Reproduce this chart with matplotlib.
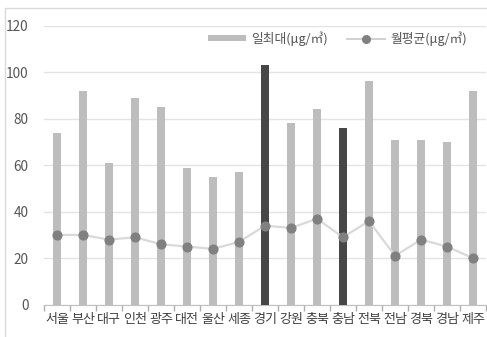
import matplotlib
matplotlib.use("Agg")
import matplotlib.pyplot as plt
from matplotlib.patches import Rectangle
from matplotlib.lines import Line2D
from matplotlib.patches import Patch

plt.rcParams['font.family'] = ['Noto Sans CJK KR', 'DejaVu Sans']

regions = ['서울', '부산', '대구', '인천', '광주', '대전', '울산', '세종', '경기',
           '강원', '충북', '충남', '전북', '전남', '경북', '경남', '제주']
daily_max = [74, 92, 61, 89, 85, 59, 55, 57, 103, 78, 84, 76, 96, 71, 71, 70, 92]
monthly_avg = [30, 30, 28, 29, 26, 25, 24, 27, 34, 33, 37, 29, 36, 21, 28, 25, 20]
highlight = ['경기', '충남']
y_ticks = [0, 20, 40, 60, 80, 100, 120]

light = '#bdbdbd'
dark = '#474747'

fig = plt.figure(figsize=(4.87, 3.37), dpi=100)
fig.patches.append(Rectangle((5 / 487, -0.1), 1.2, 1 - 8 / 337 + 0.1,
                             transform=fig.transFigure, fill=False,
                             edgecolor='#d9d9d9', linewidth=1.0))
ax = fig.add_axes([44 / 487, 1 - 304.7 / 337, (486 - 44) / 487, (304.7 - 25.7) / 337])

x = list(range(len(regions)))
colors = [dark if r in highlight else light for r in regions]
ax.bar(x, daily_max, width=0.31, color=colors, zorder=2)
ax.plot(x, monthly_avg, color='#d9d9d9', linewidth=1.6, zorder=3)
ax.plot(x, monthly_avg, linestyle='none', marker='o', markersize=6.3,
        color='#808080', zorder=4)

ax.set_ylim(0, 120)
ax.set_xlim(-0.5, len(regions) - 0.5)
ax.set_yticks(y_ticks)
ax.yaxis.grid(True, color='#e3e3e3', linewidth=1.0, zorder=0)
ax.set_axisbelow(True)
for s in ['top', 'right', 'left']:
    ax.spines[s].set_visible(False)
ax.spines['bottom'].set_color('#c0c0c0')
ax.spines['bottom'].set_zorder(1)

ax.set_xticks(x)
ax.set_xticklabels(regions, fontsize=9.4, color='#404040')
ax.tick_params(axis='x', which='major', length=0, pad=6)
ax.set_xticks([i + 0.5 for i in range(-1, len(regions))], minor=True)
ax.tick_params(axis='x', which='minor', length=4.5, width=1.0, color='#b0b0b0')
ax.tick_params(axis='y', length=0, pad=11, labelsize=9.8, labelcolor='#555555')

handles = [Patch(facecolor=light, edgecolor='none'),
           Line2D([0], [0], color='#d0d0d0', linewidth=1.4, marker='o',
                  markersize=5.5, markerfacecolor='#808080', markeredgecolor='#808080')]
labels = ['일최대(μg/㎥)', '월평균(μg/㎥)']
leg = fig.legend(handles, labels, loc='upper right',
                 bbox_to_anchor=(467 / 487, 1 - 31 / 337), borderaxespad=0,
                 borderpad=0, ncol=2, frameon=False, fontsize=9.2, handlelength=3.0,
                 handleheight=0.45, columnspacing=1.5, handletextpad=0.4)
for t in leg.get_texts():
    t.set_color('#555555')

fig.savefig('out.png', dpi=100)
